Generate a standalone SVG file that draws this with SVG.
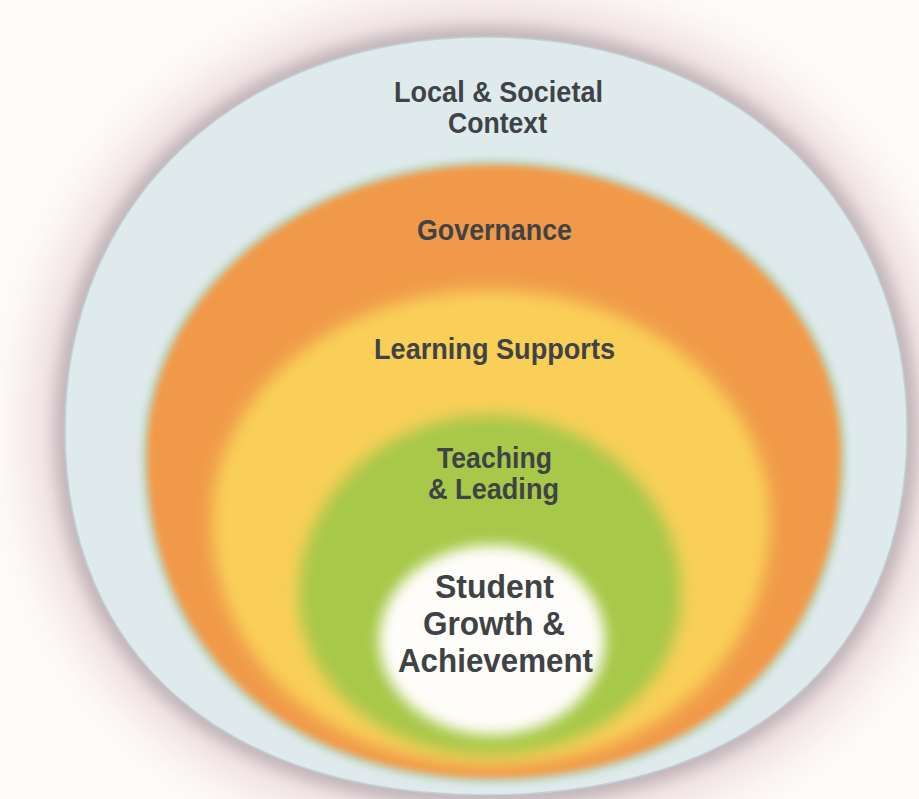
<svg xmlns="http://www.w3.org/2000/svg" xmlns:xlink="http://www.w3.org/1999/xlink" width="919" height="799" viewBox="0 0 919 799">
  <defs>
    <style>
      .lbl { font-family: "Liberation Sans", Arial, sans-serif; font-weight: bold; fill: #404346; text-anchor: middle; }
    </style>
    <filter id="b3" x="-10%" y="-10%" width="120%" height="120%"><feGaussianBlur stdDeviation="3"/></filter>
    <filter id="b8" x="-10%" y="-10%" width="120%" height="120%"><feGaussianBlur stdDeviation="8"/></filter>
    <filter id="b7" x="-15%" y="-15%" width="130%" height="130%"><feGaussianBlur stdDeviation="7"/></filter>
    <filter id="b9" x="-15%" y="-15%" width="130%" height="130%"><feGaussianBlur stdDeviation="9"/></filter>
    <filter id="b22" x="-20%" y="-20%" width="140%" height="140%"><feGaussianBlur stdDeviation="22"/></filter>
    <path id="pBlue" d="M907,430 C907,656.3 747,795 486,795 C225,795 65,656.3 65,430 C65,200 240,37 486,37 C732,37 907,200 907,430 Z"/>
    <path id="pOrange" d="M841,455 C841,648.8 702.2,778 494,778 C285.8,778 147,648.8 147,455 C147,295.5 303.1,165 494,165 C684.9,165 841,295.5 841,455 Z"/>
    <path id="pYellow" d="M770,520 C770,662.1 652.8,765 491,765 C329.2,765 212,662.1 212,520 C212,393.5 337.5,290 491,290 C644.5,290 770,393.5 770,520 Z"/>
    <path id="pGreen" d="M681,595 C681,684.6 597,755 490,755 C383,755 299,684.6 299,595 C299,496 385,415 490,415 C595,415 681,496 681,595 Z"/>
  </defs>

  <rect x="0" y="0" width="919" height="799" fill="#fdfbf9"/>

  <g id="context">
    <use xlink:href="#pBlue" fill="none" stroke="#f0dfdf" stroke-width="80" filter="url(#b22)"/>
    <use xlink:href="#pBlue" fill="none" stroke="#aea4ac" stroke-width="16" filter="url(#b9)"/>
    <use xlink:href="#pBlue" fill="#deeaeb" stroke="#c3cfd2" stroke-width="1.5"/>
    <text class="lbl" x="498.5" y="102" font-size="30" textLength="209" lengthAdjust="spacingAndGlyphs">Local &amp; Societal</text>
    <text class="lbl" x="497.5" y="133" font-size="30" textLength="99" lengthAdjust="spacingAndGlyphs">Context</text>
  </g>

  <g id="governance">
    <use xlink:href="#pOrange" fill="none" stroke="#c3d8c4" stroke-width="12" filter="url(#b3)"/>
    <use xlink:href="#pOrange" fill="#f09a4a" filter="url(#b3)"/>
    <text class="lbl" x="494.5" y="240" font-size="30" textLength="155" lengthAdjust="spacingAndGlyphs">Governance</text>
  </g>

  <g id="learning-supports">
    <use xlink:href="#pYellow" fill="#f9cf58" filter="url(#b8)"/>
    <text class="lbl" x="494.5" y="359" font-size="30" textLength="241" lengthAdjust="spacingAndGlyphs">Learning Supports</text>
  </g>

  <g id="teaching-leading">
    <use xlink:href="#pGreen" fill="#a7c848" filter="url(#b8)"/>
    <text class="lbl" x="494.5" y="468" font-size="29" textLength="115" lengthAdjust="spacingAndGlyphs">Teaching</text>
    <text class="lbl" x="493.5" y="499" font-size="29" textLength="131" lengthAdjust="spacingAndGlyphs">&amp; Leading</text>
  </g>

  <g id="student">
    <ellipse cx="492" cy="640" rx="113" ry="95" fill="#fffdfa" filter="url(#b7)"/>
    <text class="lbl" x="494.5" y="598" font-size="33" textLength="119" lengthAdjust="spacingAndGlyphs">Student</text>
    <text class="lbl" x="494" y="635" font-size="33" textLength="142" lengthAdjust="spacingAndGlyphs">Growth &amp;</text>
    <text class="lbl" x="495.5" y="672" font-size="33" textLength="195" lengthAdjust="spacingAndGlyphs">Achievement</text>
  </g>
</svg>
